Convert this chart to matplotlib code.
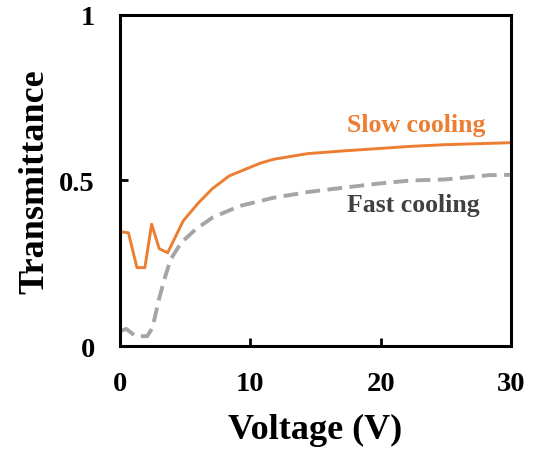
import matplotlib
matplotlib.use("Agg")
import matplotlib.pyplot as plt

slow_v = [0.13, 0.66, 1.31, 1.92, 2.44, 3.02, 3.67, 4.86, 6.04, 7.09, 8.4, 10.76, 11.8, 14.4, 17.06, 19.7, 22.3, 24.9, 30.0]
slow_t = [0.345, 0.342, 0.237, 0.237, 0.368, 0.294, 0.282, 0.378, 0.433, 0.475, 0.514, 0.552, 0.564, 0.581, 0.589, 0.596, 0.603, 0.608, 0.614]

fast_v = [0.13, 0.5, 1.2, 2.1, 2.5, 3.0, 3.4, 3.9, 4.7, 5.8, 7.1, 9.2, 11.8, 14.4, 17.1, 19.7, 22.3, 24.9, 28.3, 30.0]
fast_t = [0.047, 0.052, 0.030, 0.030, 0.055, 0.141, 0.20, 0.262, 0.312, 0.352, 0.388, 0.423, 0.448, 0.465, 0.478, 0.490, 0.50, 0.503, 0.516, 0.517]

x_ticks = [0, 10, 20, 30]
y_ticks = [0, 0.5, 1]
y_tick_labels = ["0", "0.5", "1"]

plt.rcParams['font.family'] = ['Liberation Serif', 'DejaVu Serif']
plt.rcParams['font.weight'] = 'bold'

fig = plt.figure(figsize=(5.35, 4.52), dpi=100)
ax = fig.add_axes([0.224, 0.232, 0.731, 0.733])

ax.plot(fast_v, fast_t, color='#A5A5A5', lw=2.8, dashes=(3.8, 1.9), solid_capstyle='butt')
ax.plot(slow_v, slow_t, color='#ED7D31', lw=2.1)

ax.set_xlim(0, 30)
ax.set_ylim(0, 1)
ax.set_xticks(x_ticks)
ax.set_yticks(y_ticks)
ax.set_yticklabels(y_tick_labels)
ax.tick_params(direction='in', length=6, width=2, labelsize=20.5, pad=18)
for lbl in ax.get_xticklabels() + ax.get_yticklabels():
    lbl.set_fontweight('bold')
for s in ax.spines.values():
    s.set_linewidth(2.2)

ax.set_xlabel('Voltage (V)', fontsize=26, fontweight='bold', labelpad=12)
ax.set_ylabel('Transmittance', fontsize=26, fontweight='bold', labelpad=6)

ax.text(22.7, 0.668, 'Slow cooling', color='#ED7D31', fontsize=18.5, fontweight='bold', ha='center', va='center')
ax.text(22.5, 0.426, 'Fast cooling', color='#404040', fontsize=18.5, fontweight='bold', ha='center', va='center')

fig.savefig('out.png', dpi=100)
